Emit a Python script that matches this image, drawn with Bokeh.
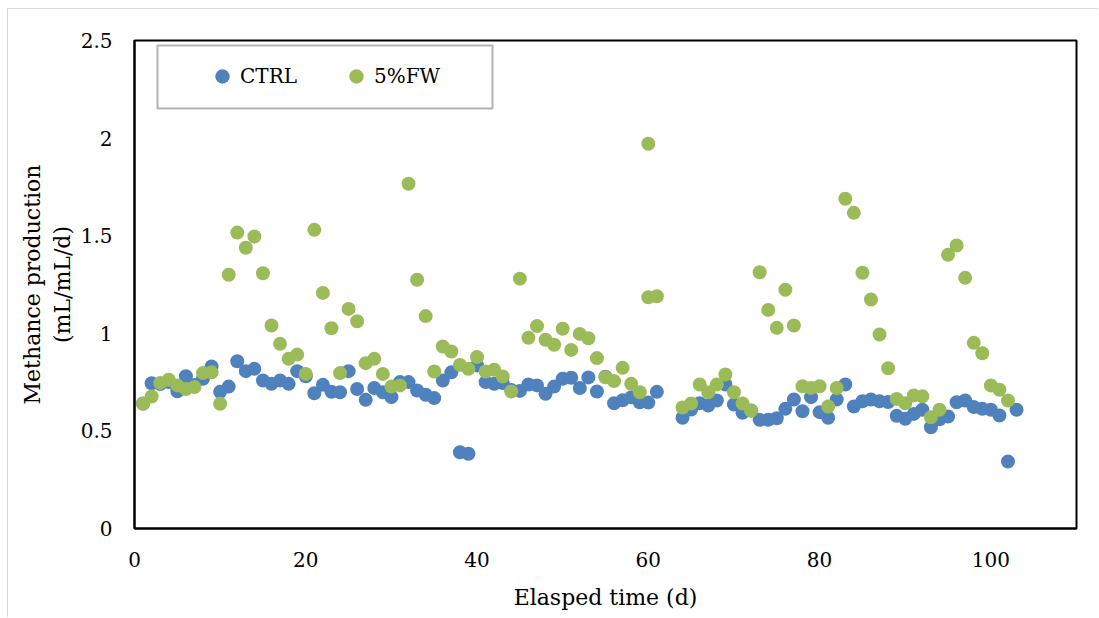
from bokeh.plotting import figure
from bokeh.models import (ColumnDataSource, Range1d, FixedTicker, NumeralTickFormatter,
                          Legend, LegendItem, BoxAnnotation)
from bokeh.embed import file_html
from bokeh.resources import INLINE

# ---- data ----
ctrl_day = [1, 2, 3, 4, 5, 6, 7, 8, 9, 10, 11, 12, 13, 14, 15, 16, 17, 18, 19, 20,
            21, 22, 23, 24, 25, 26, 27, 28, 29, 30, 31, 32, 33, 34, 35, 36, 37, 38, 39, 40,
            41, 42, 43, 44, 45, 46, 47, 48, 49, 50, 51, 52, 53, 54, 55, 56, 57, 58, 59, 60,
            61, 64, 65, 66, 67, 68, 69, 70, 71, 72, 73, 74, 75, 76, 77, 78, 79, 80, 81, 82,
            83, 84, 85, 86, 87, 88, 89, 90, 91, 92, 93, 94, 95, 96, 97, 98, 99, 100, 101, 102,
            103]
ctrl_val = [0.64, 0.744, 0.74, 0.75, 0.703, 0.78, 0.735, 0.767, 0.83, 0.70,
            0.727, 0.857, 0.806, 0.818, 0.758, 0.741, 0.758, 0.741, 0.806, 0.78,
            0.693, 0.736, 0.70, 0.698, 0.806, 0.715, 0.659, 0.72, 0.698, 0.673,
            0.75, 0.75, 0.707, 0.685, 0.668, 0.758, 0.80, 0.391, 0.383, 0.835,
            0.75, 0.741, 0.745, 0.71, 0.705, 0.738, 0.733, 0.69, 0.727, 0.767,
            0.772, 0.72, 0.774, 0.702, 0.778, 0.642, 0.657, 0.672, 0.647, 0.645,
            0.70, 0.567, 0.61, 0.642, 0.63, 0.656, 0.738, 0.635, 0.593, 0.605,
            0.557, 0.557, 0.565, 0.613, 0.661, 0.601, 0.673, 0.596, 0.567, 0.661,
            0.738, 0.625, 0.652, 0.661, 0.652, 0.648, 0.577, 0.562, 0.587, 0.608,
            0.519, 0.56, 0.574, 0.647, 0.656, 0.622, 0.613, 0.608, 0.579, 0.343,
            0.608]

fw_day = [1, 2, 3, 4, 5, 6, 7, 8, 9, 10, 11, 12, 13, 14, 15, 16, 17, 18, 19, 20,
          21, 22, 23, 24, 25, 26, 27, 28, 29, 30, 31, 32, 33, 34, 35, 36, 37, 38, 39, 40,
          41, 42, 43, 44, 45, 46, 47, 48, 49, 50, 51, 52, 53, 54, 55, 56, 57, 58, 59, 60,
          60, 61, 64, 65, 66, 67, 68, 69, 70, 71, 72, 73, 74, 75, 76, 77, 78, 79, 80, 81,
          82, 83, 84, 85, 86, 87, 88, 89, 90, 91, 92, 93, 94, 95, 96, 97, 98, 99, 100, 101,
          102]
fw_val = [0.639, 0.676, 0.746, 0.762, 0.733, 0.715, 0.725, 0.796, 0.80, 0.639,
          1.30, 1.516, 1.438, 1.496, 1.308, 1.04, 0.946, 0.869, 0.891, 0.792,
          1.53, 1.207, 1.026, 0.796, 1.125, 1.062, 0.847, 0.869, 0.792, 0.727,
          0.733, 1.766, 1.274, 1.088, 0.804, 0.932, 0.907, 0.838, 0.818, 0.878,
          0.804, 0.813, 0.779, 0.702, 1.28, 0.977, 1.037, 0.967, 0.941, 1.023,
          0.915, 0.997, 0.975, 0.873, 0.775, 0.755, 0.823, 0.741, 0.698, 1.971,
          1.185, 1.19, 0.62, 0.64, 0.738, 0.698, 0.738, 0.789, 0.698, 0.64,
          0.603, 1.313, 1.12, 1.028, 1.223, 1.04, 0.729, 0.72, 0.729, 0.625,
          0.72, 1.689, 1.617, 1.31, 1.173, 0.994, 0.821, 0.664, 0.642, 0.681,
          0.677, 0.570, 0.608, 1.402, 1.45, 1.284, 0.951, 0.898, 0.733, 0.711,
          0.656]

series_names = ["CTRL", "5%FW"]
x_ticks = [0, 20, 40, 60, 80, 100]
y_ticks = [0, 0.5, 1, 1.5, 2, 2.5]
x_title = "Elasped time (d)"
y_title = "Methance production\n(mL/mL/d)"

BLUE = "#4F81BD"
GREEN = "#9BBB59"
FONT = "DejaVu Serif"

p = figure(width=1091, height=609, output_backend="svg", toolbar_location=None,
           x_range=Range1d(0, 110), y_range=Range1d(0, 2.5),
           min_border_left=126, min_border_right=23, min_border_top=31, min_border_bottom=90)
p.background_fill_color = "white"
p.border_fill_color = "white"
p.outline_line_color = "black"
p.outline_line_width = 2
p.xgrid.visible = False
p.ygrid.visible = False

src_c = ColumnDataSource(dict(x=ctrl_day, y=ctrl_val))
src_f = ColumnDataSource(dict(x=fw_day, y=fw_val))
r1 = p.scatter("x", "y", source=src_c, size=14, fill_color=BLUE, line_color=None)
r2 = p.scatter("x", "y", source=src_f, size=14, fill_color=GREEN, line_color=None)

for ax in (p.xaxis[0], p.yaxis[0]):
    ax.axis_line_color = "black"
    ax.axis_line_width = 2
    ax.major_tick_line_color = None
    ax.minor_tick_line_color = None
    ax.major_tick_out = 0
    ax.major_tick_in = 0
    ax.major_label_text_font = FONT
    ax.major_label_text_font_size = "20px"
    ax.major_label_text_color = "black"
    ax.axis_label_text_font = FONT
    ax.axis_label_text_font_size = "22px"
    ax.axis_label_text_font_style = "normal"
    ax.axis_label_text_color = "black"
    ax.formatter = NumeralTickFormatter(format="0.[0]")

p.xaxis[0].ticker = FixedTicker(ticks=x_ticks)
p.yaxis[0].ticker = FixedTicker(ticks=y_ticks)
p.xaxis[0].axis_label = x_title
p.yaxis[0].axis_label = y_title
p.xaxis[0].major_label_standoff = 23
p.yaxis[0].major_label_standoff = 22
p.xaxis[0].axis_label_standoff = 15
p.yaxis[0].axis_label_standoff = 3

legend = Legend(items=[LegendItem(label=series_names[0], renderers=[r1]),
                       LegendItem(label=series_names[1], renderers=[r2])],
                orientation="horizontal", location=(70, 434), padding=0, margin=0,
                spacing=41, glyph_width=36, glyph_height=36, label_standoff=0,
                label_text_font=FONT, label_text_font_size="20px", label_text_color="black",
                border_line_alpha=0, background_fill_alpha=0)
p.add_layout(legend)

box = BoxAnnotation(left=23, right=358, top=483, bottom=420,
                    left_units="screen", right_units="screen", top_units="screen", bottom_units="screen",
                    fill_color=None, fill_alpha=0, line_color="black", line_width=2)
p.add_layout(box)

p.styles = {"margin-left": "7px", "margin-top": "8px",
            "border-left": "1px solid #d9d9d9", "border-top": "1px solid #d9d9d9"}

open("out.html", "w").write(file_html(p, INLINE))
